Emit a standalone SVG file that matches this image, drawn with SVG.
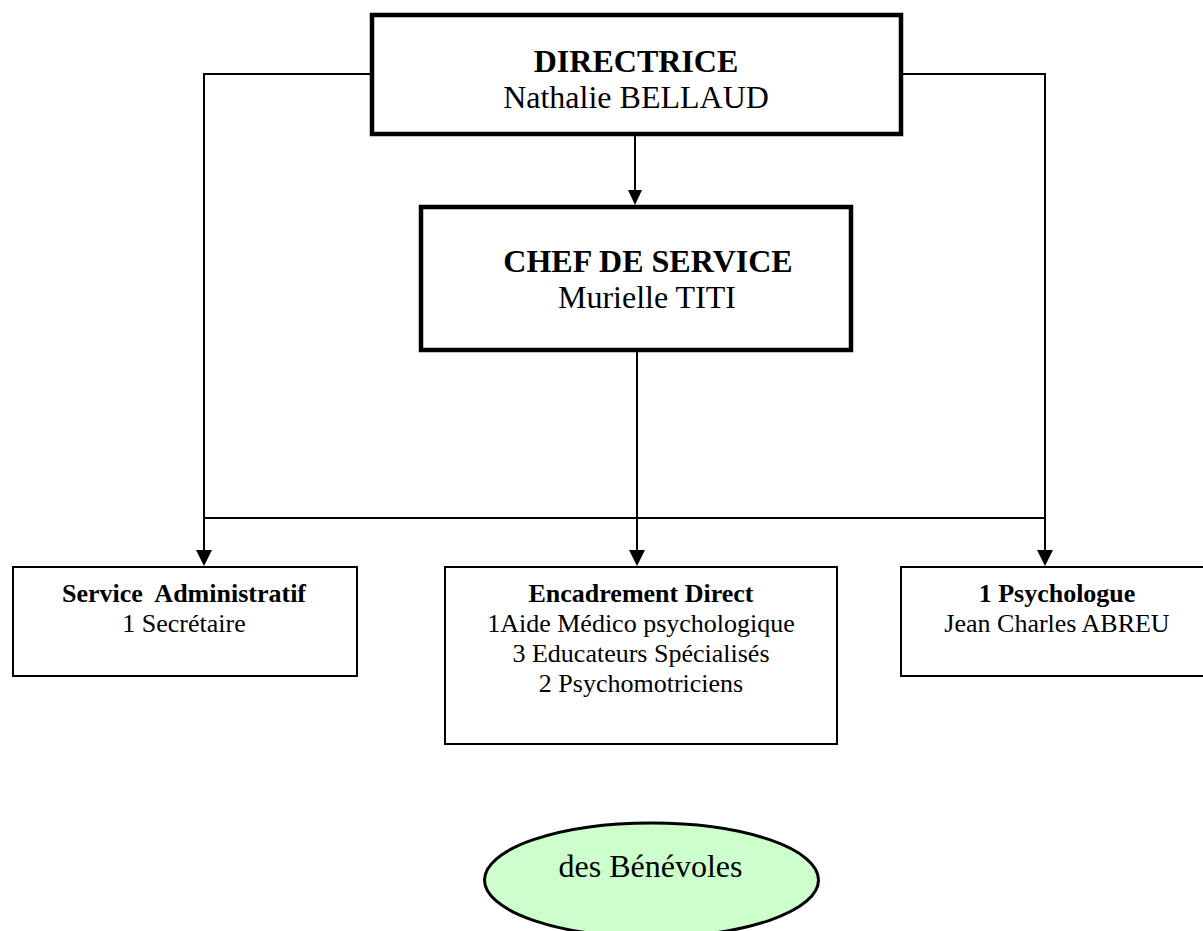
<svg xmlns="http://www.w3.org/2000/svg" width="1203" height="931" viewBox="0 0 1203 931">
<style>
.bg{fill:#ffffff}
.boxL{fill:#ffffff;stroke:#000;stroke-width:4.5}
.boxS{fill:#ffffff;stroke:#000;stroke-width:2}
.line{fill:none;stroke:#000;stroke-width:2}
.t{font-family:"Liberation Serif","Times New Roman",serif;fill:#000;text-anchor:middle}
.big{font-size:32px}
.small{font-size:26px}
.b{font-weight:bold}
</style>
<defs>
<marker id="arr" markerWidth="8" markerHeight="8" refX="8" refY="4" orient="auto" markerUnits="userSpaceOnUse" viewBox="0 0 8 8">
<path d="M0,0 L8,4 L0,8 Z" fill="#000"/>
</marker>
</defs>
<rect class="bg" x="0" y="0" width="1203" height="931"/>
<g id="connectors">
<polyline class="line" points="372,74 204,74 204,552"/>
<path d="M196,550 L212,550 L204,566 Z" fill="#000"/>
<polyline class="line" points="901,74 1045,74 1045,552"/>
<path d="M1037,550 L1053,550 L1045,566 Z" fill="#000"/>
<line class="line" x1="635" y1="136" x2="635" y2="192"/>
<path d="M628,190 L642,190 L635,205 Z" fill="#000"/>
<line class="line" x1="637" y1="352" x2="637" y2="552"/>
<path d="M629,550 L645,550 L637,566 Z" fill="#000"/>
<line class="line" x1="204" y1="518" x2="1045" y2="518"/>
</g>
<g id="directrice">
<rect class="boxL" x="372" y="15" width="529" height="119"/>
<text class="t big b" x="636" y="72">DIRECTRICE</text>
<text class="t big" x="636" y="108">Nathalie BELLAUD</text>
</g>
<g id="chef">
<rect class="boxL" x="421" y="207" width="430" height="143"/>
<text class="t big b" x="648" y="272">CHEF DE SERVICE</text>
<text class="t big" x="647" y="308">Murielle TITI</text>
</g>
<g id="admin">
<rect class="boxS" x="13" y="567" width="344" height="109"/>
<text class="t small b" x="184" y="602" xml:space="preserve">Service  Administratif</text>
<text class="t small" x="184" y="632">1 Secrétaire</text>
</g>
<g id="encadrement">
<rect class="boxS" x="445" y="567" width="392" height="177"/>
<text class="t small b" x="641" y="602">Encadrement Direct</text>
<text class="t small" x="641" y="632">1Aide Médico psychologique</text>
<text class="t small" x="641" y="662">3 Educateurs Spécialisés</text>
<text class="t small" x="641" y="692">2 Psychomotriciens</text>
</g>
<g id="psychologue">
<rect class="boxS" x="901" y="567" width="312" height="109"/>
<text class="t small b" x="1057" y="602">1 Psychologue</text>
<text class="t small" x="1057" y="632">Jean Charles ABREU</text>
</g>
<g id="benevoles">
<ellipse cx="651.5" cy="880" rx="167" ry="57" fill="#CCFFCC" stroke="#000" stroke-width="3"/>
<text class="t big" x="650.5" y="877">des Bénévoles</text>
</g>
</svg>
